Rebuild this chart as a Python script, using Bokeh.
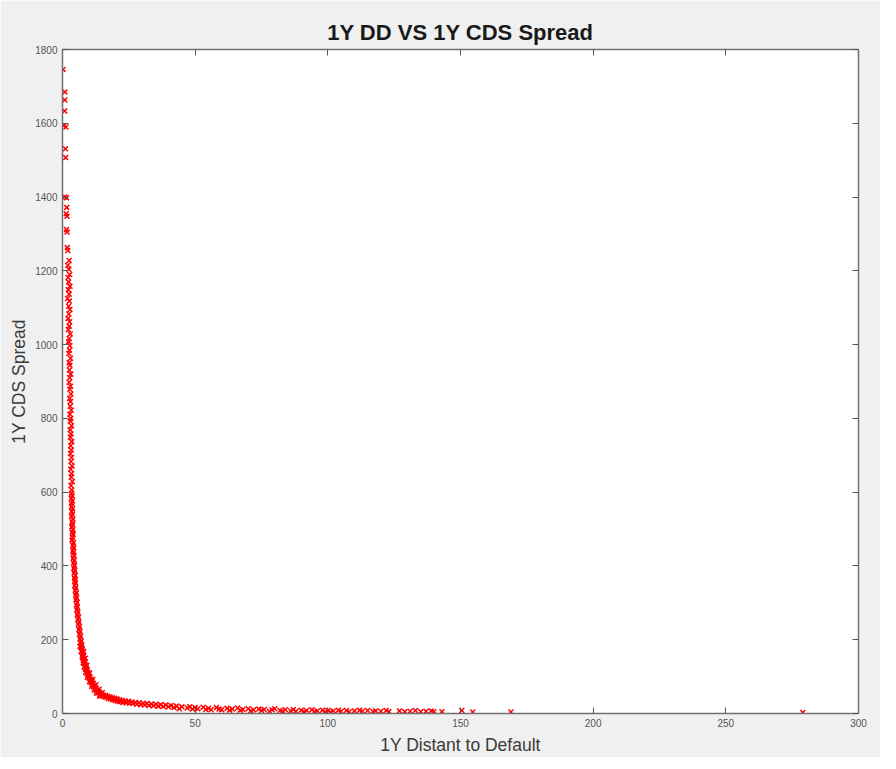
from bokeh.plotting import figure
from bokeh.models import Range1d, FixedTicker, LinearAxis, CustomLabelingPolicy
from bokeh.embed import file_html
from bokeh.resources import INLINE

# ---- data ----
# sparse points at the top of the steep branch
dd_top = [0.2, 0.9, 0.9, 0.8, 0.4, 1.3, 1.1, 1.2, 0.9, 1.5, 1.6, 1.4, 1.7, 1.5, 1.7, 1.8, 2.0]
cds_top = [1746, 1685, 1663, 1633, 1593, 1590, 1531, 1507, 1400, 1398, 1372, 1355, 1348, 1312, 1305, 1263, 1255]

# steep branch, upper part
cds_steep_hi = [1228, 1215, 1204, 1190, 1182, 1170, 1158, 1149, 1137, 1125,
                1118, 1104, 1095, 1083, 1071, 1062, 1050, 1041, 1029, 1016,
                1008, 997, 985, 976, 963, 951, 944, 931, 920, 910,
                898, 887, 879, 866, 854, 846, 833, 822, 811, 800,
                792, 780, 769, 758, 749, 737, 726, 714, 705, 694,
                683, 671, 662, 650, 641, 629, 618, 606, 597]
dd_steep_hi = [2.5, 2.0, 2.4, 2.7, 2.1, 2.3, 2.8, 2.2, 2.5, 1.9,
               2.6, 2.3, 2.8, 2.4, 2.1, 2.7, 2.5, 2.2, 2.9, 2.5,
               2.3, 2.8, 2.6, 2.4, 3.0, 2.5, 2.8, 2.6, 3.1, 2.7,
               2.5, 3.0, 2.8, 3.2, 2.7, 3.0, 2.9, 3.3, 2.8, 3.1,
               3.0, 3.4, 2.9, 3.2, 3.0, 3.5, 3.1, 3.3, 3.0, 3.4,
               3.2, 3.6, 3.1, 3.4, 3.3, 3.7, 3.2, 3.5, 3.4]

# steep branch, lower part
cds_steep_lo = [590, 583, 576, 569, 561, 555, 548, 540, 534, 527,
                519, 512, 506, 498, 491, 485, 477, 470, 463, 456,
                449, 442, 436, 428, 421, 415, 408, 401, 394, 388,
                381, 374, 367, 361, 354, 347, 341, 334, 327, 321,
                314, 308, 301, 294, 288, 281, 275, 268, 261, 255,
                248, 242, 235, 228, 222, 215, 209, 202, 196]
dd_steep_lo = [3.6, 3.3, 3.7, 3.5, 3.4, 3.8, 3.5, 3.7, 3.4, 3.9,
               3.6, 3.8, 3.5, 3.9, 3.7, 4.0, 3.8, 3.6, 4.1, 3.9,
               4.2, 3.9, 4.1, 4.3, 4.0, 4.4, 4.2, 4.5, 4.3, 4.6,
               4.4, 4.8, 4.5, 4.7, 4.9, 4.6, 5.0, 4.8, 5.2, 5.0,
               5.3, 5.1, 5.5, 5.3, 5.6, 5.4, 5.8, 5.6, 6.0, 5.8,
               6.2, 6.0, 6.4, 6.2, 6.6, 6.4, 6.8, 6.6, 7.0]

# knee of the curve
cds_knee = [190, 185, 180, 175, 170, 165, 160, 156, 152, 148,
            144, 140, 136, 132, 128, 124, 120, 117, 114, 111,
            108, 105, 102, 99, 96, 93, 90, 87, 84, 81,
            78, 75, 72, 69, 66, 63, 60, 58, 56, 54,
            52, 50, 48, 46,
            182, 168, 154, 138, 126, 112, 98, 86, 74, 64, 55, 47,
            168, 150, 130, 110, 92, 78, 66, 57, 49]
dd_knee = [6.9, 7.3, 7.1, 7.5, 7.3, 7.7, 7.5, 7.9, 7.7, 8.1,
           7.9, 8.4, 8.1, 8.6, 8.4, 8.9, 8.7, 9.3, 9.0, 9.6,
           9.3, 9.9, 9.6, 10.3, 10.0, 10.7, 10.4, 11.1, 10.8, 11.6,
           11.2, 12.1, 11.7, 12.6, 12.2, 13.2, 12.8, 13.9, 13.4, 14.6,
           14.1, 15.3, 14.8, 16.0,
           6.6, 7.0, 7.4, 7.8, 8.2, 8.7, 9.4, 10.2, 11.0, 12.0, 12.9, 14.0,
           8.0, 8.6, 9.2, 10.2, 11.4, 12.6, 13.8, 15.0, 16.2]

# flattening part
dd_flat = [16.4, 17.0, 17.2, 17.9, 18.1, 18.8, 19.0, 19.7, 19.9, 20.6,
           20.8, 21.5, 21.7, 22.5, 22.8, 23.6, 24.0, 24.8, 25.3, 26.1,
           26.6, 27.5, 28.0, 28.9, 29.5, 30.4, 31.0, 31.9, 32.6, 33.5,
           34.3, 35.2, 36.1, 37.0, 38.0, 38.9, 40.0, 40.9]
cds_flat = [44, 47, 41, 45, 39, 43, 37, 41, 35, 39,
            33, 37, 32, 35, 30, 34, 29, 33, 28, 31,
            27, 30, 25, 29, 24, 28, 23, 27, 22, 26,
            21, 25, 20, 24, 19, 23, 18, 22]

# long tail
dd_tail = [42, 43, 44, 45, 47, 48, 49, 50, 51, 53,
           54, 55, 56, 58, 59, 60, 62, 63, 64, 66,
           67, 68, 70, 71, 72, 74, 75, 76, 78, 79,
           80, 82, 83, 84, 86, 87, 88, 90, 91, 92,
           94, 95, 96, 98, 99, 100, 101, 102,
           104, 105, 107, 108, 110, 112, 113, 115, 117, 118,
           120, 122, 123, 127, 129, 131, 133, 135, 137, 139, 140]
cds_tail = [16, 20, 13, 18, 15, 18, 12, 16, 13, 17,
            11, 14, 10, 16, 12, 10, 14, 9, 12, 15,
            9, 11, 13, 7, 10, 12, 8, 11, 6, 10,
            13, 8, 6, 10, 7, 11, 6, 9, 5, 8,
            10, 5, 7, 9, 5, 8, 4, 7,
            9, 6, 8, 5, 7, 9, 6, 8, 5, 7,
            6, 8, 5, 7, 5, 6, 8, 5, 6, 7, 5]

# isolated far points
dd_far = [143, 150.5, 154.6, 169, 279]
cds_far = [5, 8, 4, 4, 3]

x_ticks = [0, 50, 100, 150, 200, 250, 300]
y_ticks = [0, 200, 400, 600, 800, 1000, 1200, 1400, 1600, 1800]

dd_all = dd_top + dd_steep_hi + dd_steep_lo + dd_knee + dd_flat + dd_tail + dd_far
cds_all = cds_top + cds_steep_hi + cds_steep_lo + cds_knee + cds_flat + cds_tail + cds_far

FONT = "Liberation Sans"
AX_COL = "#707070"

p = figure(frame_width=796, frame_height=664,
           x_range=Range1d(0, 300), y_range=Range1d(0, 1800),
           output_backend="svg", toolbar_location=None,
           min_border_left=62, min_border_right=22, min_border_top=49, min_border_bottom=40,
           x_axis_label="1Y Distant to Default", y_axis_label="1Y CDS Spread")

p.title.text = "1Y DD VS 1Y CDS Spread"
p.title.align = "center"
p.title.text_font = FONT
p.title.text_font_size = "22px"
p.title.text_font_style = "bold"
p.title.text_color = "#1a1a1a"
p.title.standoff = 10

p.background_fill_color = "white"
p.border_fill_color = "#f0f0f0"
p.outline_line_color = None
p.grid.visible = False

no_labels = CustomLabelingPolicy(code="""
    const result = new Set()
    return result
""")

p.add_layout(LinearAxis(major_label_policy=no_labels), "above")
p.add_layout(LinearAxis(major_label_policy=no_labels), "right")

for ax in p.xaxis:
    ax.ticker = FixedTicker(ticks=x_ticks)
for ax in p.yaxis:
    ax.ticker = FixedTicker(ticks=y_ticks)

for ax in p.axis:
    ax.axis_line_color = AX_COL
    ax.axis_line_width = 1.5
    ax.major_tick_line_color = "#555555"
    ax.major_tick_in = 6
    ax.major_tick_out = 0
    ax.minor_tick_line_color = None
    ax.major_label_text_font = FONT
    ax.major_label_text_font_size = "10px"
    ax.major_label_text_color = "#555555"
    ax.axis_label_text_font = FONT
    ax.axis_label_text_font_size = "17.5px"
    ax.axis_label_text_font_style = "normal"
    ax.axis_label_text_color = "#3a3a3a"

p.xaxis[0].major_label_standoff = 6
p.yaxis[0].major_label_standoff = 5
p.xaxis[0].axis_label_standoff = 6
p.yaxis[0].axis_label_standoff = 3

for ax in (p.above[-1], p.right[-1]):
    ax.major_label_standoff = 0
    ax.major_label_text_font_size = "0px"

p.scatter(dd_all, cds_all, marker="x", size=7, line_color="#ff0000", line_width=1.5)

open("out.html", "w").write(file_html(p, INLINE))
